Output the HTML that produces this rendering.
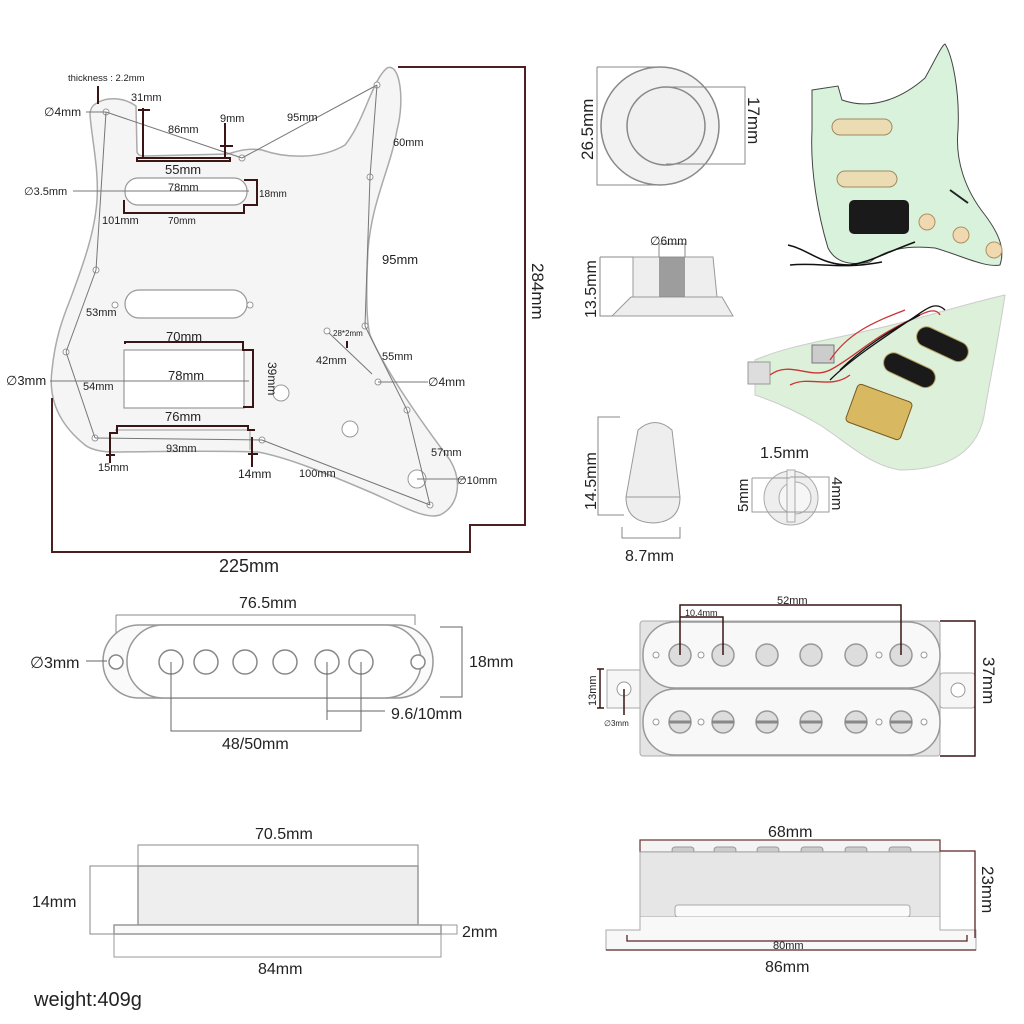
<!DOCTYPE html>
<html><head><meta charset="utf-8"><style>
html,body{margin:0;padding:0;background:#fff}
svg{display:block}
text{font-family:"Liberation Sans",sans-serif;fill:#222}
</style></head><body>
<svg width="1024" height="1024" viewBox="0 0 1024 1024" xmlns="http://www.w3.org/2000/svg">
<rect width="1024" height="1024" fill="#fff"/>

<!-- Pickguard outline -->
<path d="M97,103 C108,96 125,98 136,106 L137,152 C138,155 140,156 145,156 L228,154 C240,150 250,148 262,150 C285,158 320,160 345,145 C365,120 372,80 387,68 C400,62 405,100 397,130 C390,170 372,200 368,250 C366,290 366,320 370,335 C385,370 420,420 450,460 C462,480 460,505 440,515 C425,520 400,505 370,492 C330,475 290,458 258,452 C200,450 150,452 113,452 C100,452 90,449 85,445 C60,425 48,400 52,370 C55,340 62,320 70,300 C85,260 95,230 97,200 C99,170 92,140 90,115 C90,108 93,105 97,103 Z" fill="#f5f5f5" stroke="#aaa" stroke-width="1.5"/>
<!-- dimension frame 284/225 -->
<path d="M398,67 H525 V525 H470 V552 H52 V398" fill="none" stroke="#4a2020" stroke-width="2"/>

<!-- pickup cutouts -->
<rect x="125" y="178" width="122" height="27" rx="13" fill="#fff" stroke="#999" stroke-width="1.2"/>
<rect x="125" y="290" width="122" height="28" rx="14" fill="#fff" stroke="#999" stroke-width="1.2"/>
<rect x="124" y="350" width="120" height="58" fill="#fff" stroke="#999" stroke-width="1.2"/>
<path d="M115,430 H250 V450" fill="none" stroke="#999"/>
<circle cx="281" cy="393" r="8" fill="#fff" stroke="#999"/>
<circle cx="350" cy="429" r="8" fill="#fff" stroke="#999"/>
<circle cx="417" cy="479" r="9" fill="#fff" stroke="#999"/>
<!-- screw holes -->
<g fill="#fff" stroke="#999">
<circle cx="106" cy="112" r="3"/><circle cx="242" cy="158" r="3"/><circle cx="377" cy="85" r="3"/>
<circle cx="370" cy="177" r="3"/><circle cx="96" cy="270" r="3"/><circle cx="66" cy="352" r="3"/>
<circle cx="95" cy="438" r="3"/><circle cx="262" cy="440" r="3"/><circle cx="430" cy="505" r="3"/>
<circle cx="407" cy="410" r="3"/><circle cx="365" cy="326" r="3"/><circle cx="378" cy="382" r="3"/>
<circle cx="115" cy="305" r="3"/><circle cx="250" cy="305" r="3"/><circle cx="327" cy="331" r="3"/>
</g>
<!-- dimension lines in picture -->
<g stroke="#777" stroke-width="1" fill="none">
<line x1="106" y1="112" x2="242" y2="158"/><line x1="242" y1="158" x2="377" y2="85"/>
<line x1="377" y1="85" x2="370" y2="177"/><line x1="370" y1="177" x2="365" y2="326"/>
<line x1="365" y1="326" x2="407" y2="410"/><line x1="407" y1="410" x2="430" y2="505"/>
<line x1="430" y1="505" x2="262" y2="440"/><line x1="95" y1="438" x2="262" y2="440"/>
<line x1="95" y1="438" x2="66" y2="352"/><line x1="66" y1="352" x2="96" y2="270"/><line x1="96" y1="270" x2="106" y2="112"/>
<line x1="86" y1="112" x2="106" y2="112"/><line x1="73" y1="191" x2="249" y2="191"/>
<line x1="50" y1="381" x2="249" y2="381"/><line x1="378" y1="382" x2="428" y2="382"/>
<line x1="417" y1="479" x2="466" y2="479"/><line x1="329" y1="333" x2="372" y2="374"/>
</g>
<g stroke="#3a1515" stroke-width="2" fill="none">
<line x1="98" y1="86" x2="98" y2="104"/>
<path d="M143,108 V158 M138,110 H150 M137,158 H230 V161 H137 Z"/>
<path d="M225,123 V158 M220,146 H233"/>
<path d="M124,200 V213 H244 V205 H257 V180 H244"/>
<path d="M125,344 V342 H243 V350 H253 V407 H243"/>
<path d="M110,441 V433 H117 V426 H248 V430 H255"/>
<path d="M110,434 V463 M106,455 H115"/><path d="M252,437 V467 M248,454 H258"/>
<line x1="347" y1="341" x2="347" y2="348"/>
</g>

<g font-size="12">
<text x="68" y="81" font-size="9.5">thickness : 2.2mm</text>
<text x="44" y="116">∅4mm</text>
<text x="131" y="101" font-size="11">31mm</text>
<text x="168" y="133" font-size="11">86mm</text>
<text x="220" y="122" font-size="11">9mm</text>
<text x="287" y="121" font-size="11">95mm</text>
<text x="393" y="146" font-size="11">60mm</text>
<text x="165" y="174" font-size="13">55mm</text>
<text x="24" y="195" font-size="11">∅3.5mm</text>
<text x="168" y="191" font-size="11">78mm</text>
<text x="259" y="197" font-size="10">18mm</text>
<text x="102" y="224" font-size="11">101mm</text>
<text x="168" y="224" font-size="10">70mm</text>
<text x="382" y="264" font-size="13">95mm</text>
<text x="86" y="316" font-size="11">53mm</text>
<text x="333" y="336" font-size="8">28*2mm</text>
<text x="316" y="364" font-size="11">42mm</text>
<text x="382" y="360" font-size="11">55mm</text>
<text x="166" y="341" font-size="13">70mm</text>
<text x="6" y="385" font-size="13">∅3mm</text>
<text x="83" y="390" font-size="11">54mm</text>
<text x="168" y="380" font-size="13">78mm</text>
<text x="268" y="362" font-size="12" transform="rotate(90 268 362)">39mm</text>
<text x="428" y="386" font-size="12">∅4mm</text>
<text x="165" y="421" font-size="13">76mm</text>
<text x="166" y="452" font-size="11">93mm</text>
<text x="98" y="471" font-size="11">15mm</text>
<text x="238" y="478" font-size="12">14mm</text>
<text x="299" y="477" font-size="11">100mm</text>
<text x="431" y="456" font-size="11">57mm</text>
<text x="457" y="484" font-size="11">∅10mm</text>
<text x="219" y="572" font-size="18">225mm</text>
<text x="532" y="263" font-size="17" transform="rotate(90 532 263)">284mm</text>
</g>

<!-- knob top -->
<path d="M597,67 H660 M597,67 V185 H660" fill="none" stroke="#888"/>
<circle cx="660" cy="126" r="59" fill="#f2f2f2" stroke="#888" stroke-width="1.5"/>
<circle cx="666" cy="126" r="39" fill="#f0f0f0" stroke="#888" stroke-width="1.5"/>
<path d="M666,87 H745 V164 H666" fill="none" stroke="#888"/>
<text x="593" y="160" font-size="17" transform="rotate(-90 593 160)">26.5mm</text>
<text x="748" y="97" font-size="17" transform="rotate(90 748 97)">17mm</text>
<!-- knob side -->
<path d="M633,257 H713 L717,297 H633 Z" fill="#eee" stroke="#999"/>
<path d="M631,297 H722 L733,316 H612 Z" fill="#eee" stroke="#999"/>
<rect x="659" y="257" width="26" height="40" fill="#888" opacity="0.8"/>
<path d="M659,257 V244 H685 V257" fill="none" stroke="#888"/>
<text x="650" y="245" font-size="12">∅6mm</text>
<path d="M600,257 H633 M600,257 V316 H612" fill="none" stroke="#888"/>
<text x="596" y="318" font-size="16" transform="rotate(-90 596 318)">13.5mm</text>
<!-- switch tip -->
<path d="M638,430 Q655,415 672,430 L680,497 Q680,522 653,523 Q626,522 626,497 Z" fill="#eee" stroke="#999"/>
<line x1="626" y1="497" x2="680" y2="497" stroke="#999"/>
<path d="M620,417 H598 V515 H624" fill="none" stroke="#888"/>
<text x="596" y="510" font-size="16" transform="rotate(-90 596 510)">14.5mm</text>
<path d="M622,527 V538 H680 V527" fill="none" stroke="#888"/>
<text x="625" y="561" font-size="16">8.7mm</text>
<circle cx="791" cy="498" r="27" fill="#eee" stroke="#aaa"/>
<circle cx="795" cy="498" r="16" fill="#f6f6f6" stroke="#aaa"/>
<rect x="787" y="470" width="8" height="52" fill="#f3f3f3" stroke="#aaa"/>
<path d="M752,478 H790 M752,478 V512 H790 M790,477 H829 V512 H790" fill="none" stroke="#999"/>
<text x="760" y="458" font-size="16">1.5mm</text>
<text x="748" y="512" font-size="15" transform="rotate(-90 748 512)">5mm</text>
<text x="832" y="477" font-size="15" transform="rotate(90 832 477)">4mm</text>

<!-- green pickguard photo top -->
<path d="M812,90 L838,86 L842,100 C870,110 900,100 925,78 C935,60 942,45 945,44 C952,55 960,90 958,130 C955,160 965,190 985,215 C1000,235 1005,250 1000,265 C985,268 960,255 935,248 C905,245 885,250 870,262 C850,266 835,262 828,248 C818,215 810,170 812,130 Z" fill="#d9f2dc" stroke="#444" stroke-width="1"/>
<rect x="832" y="119" width="60" height="16" rx="8" fill="#ecdcb4" stroke="#a08a60"/>
<rect x="837" y="171" width="60" height="16" rx="8" fill="#ecdcb4" stroke="#a08a60"/>
<rect x="849" y="200" width="60" height="34" rx="5" fill="#1a1a1a"/>
<circle cx="927" cy="222" r="8" fill="#f0d8b0" stroke="#b09060"/>
<circle cx="961" cy="235" r="8" fill="#f0d8b0" stroke="#b09060"/>
<circle cx="994" cy="250" r="8" fill="#f0d8b0" stroke="#b09060"/>
<line x1="950" y1="190" x2="968" y2="203" stroke="#222" stroke-width="2"/>
<path d="M788,245 C810,250 820,265 850,265 C870,262 880,255 915,242 M790,265 C820,262 840,270 882,262" fill="none" stroke="#111" stroke-width="1.5"/>
<!-- green pickguard photo bottom -->
<path d="M755,360 C790,345 830,340 870,330 C910,322 960,305 1005,295 C1000,330 990,380 985,410 C980,450 950,470 900,470 C870,465 850,445 820,425 C795,410 770,400 755,395 Z" fill="#dcf0da" stroke="#ccc"/>
<rect x="915" y="334" width="55" height="20" rx="10" fill="#1a1a1a" stroke="#b8a060" transform="rotate(25 942 344)"/>
<rect x="882" y="360" width="55" height="20" rx="10" fill="#1a1a1a" stroke="#b8a060" transform="rotate(25 909 370)"/>
<rect x="850" y="392" width="58" height="40" rx="4" fill="#d8b860" stroke="#7a5a20" transform="rotate(20 879 412)"/>
<rect x="812" y="345" width="22" height="18" fill="#ccc" stroke="#777"/>
<rect x="748" y="362" width="22" height="22" fill="#ddd" stroke="#999"/>
<path d="M770,375 C790,360 810,380 830,370 C850,360 870,340 900,325 C920,315 935,305 940,315 M790,385 C810,375 830,390 850,375 M830,360 C850,330 880,320 905,310" fill="none" stroke="#c33" stroke-width="1.3"/>
<path d="M830,380 C850,360 880,340 910,320 C925,310 935,300 945,310 M840,370 C860,350 890,330 920,315" fill="none" stroke="#111" stroke-width="1.3"/>

<!-- single coil top view -->
<path d="M116,615 H415 V625" fill="none" stroke="#888"/>
<line x1="116" y1="615" x2="116" y2="660" stroke="#888"/>
<rect x="103" y="625" width="330" height="73" rx="36" fill="#fafafa" stroke="#999" stroke-width="1.5"/>
<rect x="127" y="625" width="294" height="73" rx="36" fill="#fff" stroke="#999" stroke-width="1.5"/>
<g fill="#fff" stroke="#888" stroke-width="1.5">
<circle cx="116" cy="662" r="7"/><circle cx="418" cy="662" r="7"/>
<circle cx="171" cy="662" r="12"/><circle cx="206" cy="662" r="12"/><circle cx="245" cy="662" r="12"/>
<circle cx="285" cy="662" r="12"/><circle cx="327" cy="662" r="12"/><circle cx="361" cy="662" r="12"/>
</g>
<path d="M171,662 V731 H361 V662 M327,662 V720 M327,711 H385 M86,661 H107 M440,627 H462 V697 H440" fill="none" stroke="#666"/>
<text x="239" y="608" font-size="16">76.5mm</text>
<text x="30" y="668" font-size="16">∅3mm</text>
<text x="469" y="667" font-size="16">18mm</text>
<text x="391" y="719" font-size="16">9.6/10mm</text>
<text x="222" y="749" font-size="16">48/50mm</text>

<!-- humbucker top view -->
<rect x="607" y="670" width="36" height="38" fill="#f6f6f6" stroke="#aaa"/>
<rect x="940" y="673" width="35" height="35" rx="3" fill="#f6f6f6" stroke="#aaa"/>
<rect x="640" y="621" width="300" height="135" rx="3" fill="#e4e4e4" stroke="#aaa"/>
<rect x="643" y="622" width="297" height="66" rx="32" fill="#f8f8f8" stroke="#999" stroke-width="1.5"/>
<rect x="643" y="689" width="297" height="66" rx="32" fill="#f8f8f8" stroke="#999" stroke-width="1.5"/>
<g stroke="#999" stroke-width="1.5">
<g fill="#ddd"><circle cx="680" cy="655" r="11"/><circle cx="723" cy="655" r="11"/><circle cx="767" cy="655" r="11"/><circle cx="811" cy="655" r="11"/><circle cx="856" cy="655" r="11"/><circle cx="901" cy="655" r="11"/>
<circle cx="680" cy="722" r="11"/><circle cx="723" cy="722" r="11"/><circle cx="767" cy="722" r="11"/><circle cx="811" cy="722" r="11"/><circle cx="856" cy="722" r="11"/><circle cx="901" cy="722" r="11"/></g>
<g fill="#fff" stroke-width="1"><circle cx="656" cy="655" r="3"/><circle cx="701" cy="655" r="3"/><circle cx="879" cy="655" r="3"/><circle cx="924" cy="655" r="3"/>
<circle cx="656" cy="722" r="3"/><circle cx="701" cy="722" r="3"/><circle cx="879" cy="722" r="3"/><circle cx="924" cy="722" r="3"/>
<circle cx="624" cy="689" r="7"/><circle cx="958" cy="690" r="7"/></g>
</g>
<g stroke="#888" stroke-width="3"><path d="M669,722 H691 M712,722 H734 M756,722 H778 M800,722 H822 M845,722 H867 M890,722 H912"/></g>
<path d="M680,655 V605 H901 V655 M680,617 H723 V655 M940,621 H975 V756 H940 M600,669 V708 M597,669 H604 M597,708 H604 M624,689 V715" fill="none" stroke="#3a1515" stroke-width="1.5"/>
<text x="777" y="604" font-size="11">52mm</text>
<text x="685" y="616" font-size="9">10.4mm</text>
<text x="596" y="706" font-size="11" transform="rotate(-90 596 706)">13mm</text>
<text x="604" y="726" font-size="8">∅3mm</text>
<text x="983" y="657" font-size="17" transform="rotate(90 983 657)">37mm</text>

<!-- single coil side view -->
<path d="M138,866 V845 H418 V866 M138,866 H90 V934 H114" fill="none" stroke="#888"/>
<rect x="138" y="866" width="280" height="59" fill="#eeeeee" stroke="#999" stroke-width="1.5"/>
<rect x="114" y="925" width="327" height="9" fill="#fafafa" stroke="#999" stroke-width="1.5"/>
<path d="M114,934 V957 H441 V934 M441,925 H457 V934 H441" fill="none" stroke="#999"/>
<text x="255" y="839" font-size="16">70.5mm</text>
<text x="32" y="907" font-size="16">14mm</text>
<text x="462" y="937" font-size="16">2mm</text>
<text x="258" y="974" font-size="16">84mm</text>

<!-- humbucker side view -->
<rect x="640" y="840" width="300" height="12" fill="#f4f4f4" stroke="#6a3030" stroke-width="1.2"/>
<g fill="#ccc" stroke="#999"><rect x="672" y="847" width="22" height="6" rx="3"/><rect x="714" y="847" width="22" height="6" rx="3"/><rect x="757" y="847" width="22" height="6" rx="3"/><rect x="801" y="847" width="22" height="6" rx="3"/><rect x="845" y="847" width="22" height="6" rx="3"/><rect x="889" y="847" width="22" height="6" rx="3"/></g>
<rect x="640" y="852" width="300" height="65" fill="#e6e6e6" stroke="#aaa"/>
<rect x="675" y="905" width="235" height="12" rx="3" fill="#fafafa" stroke="#aaa"/>
<path d="M640,917 V930 H606 V950 H976 V930 H940 V917" fill="#f8f8f8" stroke="#aaa"/>
<path d="M627,935 V941 H967 V935 M606,950 H976 M940,851 H975 V938" fill="none" stroke="#5a2525" stroke-width="1.3"/>
<text x="768" y="837" font-size="16">68mm</text>
<text x="773" y="949" font-size="11">80mm</text>
<text x="765" y="972" font-size="16">86mm</text>
<text x="982" y="866" font-size="17" transform="rotate(90 982 866)">23mm</text>

<text x="34" y="1006" font-size="20" fill="#000">weight:409g</text>
</svg>
</body></html>
